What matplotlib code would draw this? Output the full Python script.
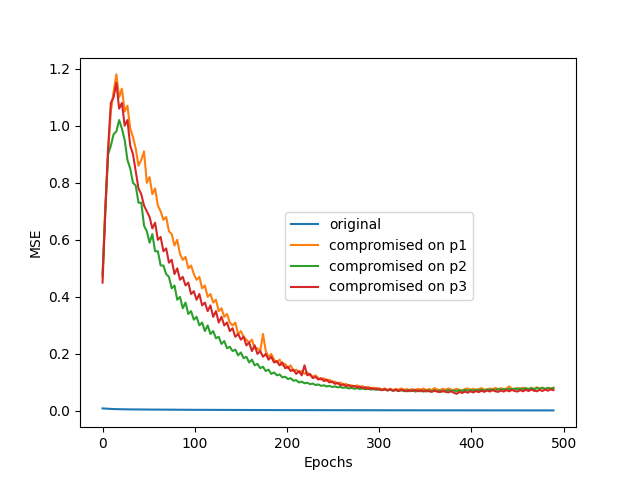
#!/usr/bin/env python3

import numpy as np
import matplotlib
matplotlib.use("Agg")
import matplotlib.pyplot as plt

epochs = np.arange(0, 490, 3)

epochs_orig = [0, 5, 10, 20, 30, 50, 75, 100, 150, 200, 250, 300, 400, 489]
mse_orig = [0.009, 0.008, 0.007, 0.006, 0.0055, 0.005, 0.0045, 0.004,
            0.0035, 0.003, 0.0028, 0.0025, 0.0022, 0.002]

mse_p1 = [
    0.47, 0.72, 0.90, 1.05, 1.12, 1.18, 1.10, 1.13, 1.05, 1.07,
    0.99, 0.96, 0.92, 0.86, 0.88, 0.91, 0.80, 0.82, 0.76, 0.78,
    0.72, 0.70, 0.67, 0.68, 0.63, 0.62, 0.58, 0.60, 0.55, 0.53,
    0.54, 0.50, 0.51, 0.48, 0.46, 0.47, 0.43, 0.44, 0.40, 0.41,
    0.38, 0.39, 0.35, 0.36, 0.33, 0.34, 0.31, 0.30, 0.31, 0.27,
    0.28, 0.26, 0.25, 0.24, 0.25, 0.22, 0.22, 0.21, 0.27, 0.21,
    0.19, 0.20, 0.18, 0.17, 0.18, 0.16, 0.165, 0.15, 0.16, 0.14,
    0.145, 0.135, 0.14, 0.13, 0.135, 0.125, 0.12, 0.125, 0.115, 0.11,
    0.115, 0.105, 0.11, 0.10, 0.103, 0.095, 0.10, 0.09, 0.095, 0.088,
    0.09, 0.086, 0.09, 0.083, 0.087, 0.081, 0.085, 0.079, 0.082, 0.078,
    0.08,
    0.076, 0.079, 0.074, 0.078, 0.073, 0.077, 0.075, 0.079, 0.074, 0.077,
    0.073, 0.077, 0.072, 0.078, 0.074, 0.079, 0.073, 0.077, 0.074, 0.080,
    0.075, 0.073, 0.078, 0.074, 0.079, 0.075, 0.073, 0.078, 0.074, 0.072,
    0.077, 0.079, 0.074, 0.078, 0.073, 0.077, 0.080, 0.075, 0.074, 0.079,
    0.075, 0.081, 0.076, 0.080, 0.075, 0.079, 0.086, 0.078, 0.076, 0.081,
    0.077, 0.082, 0.078, 0.076, 0.081, 0.077, 0.083, 0.078, 0.082, 0.077,
    0.081, 0.078, 0.081,
]

mse_p2 = [
    0.48, 0.70, 0.90, 0.93, 0.97, 0.98, 1.02, 0.99, 0.95, 0.88,
    0.85, 0.80, 0.79, 0.73, 0.73, 0.65, 0.63, 0.59, 0.62, 0.56,
    0.56, 0.51, 0.51, 0.48, 0.47, 0.43, 0.44, 0.39, 0.40, 0.36,
    0.38, 0.34, 0.35, 0.32, 0.33, 0.30, 0.31, 0.28, 0.30, 0.27,
    0.28, 0.255, 0.26, 0.235, 0.245, 0.22, 0.225, 0.21, 0.215, 0.195,
    0.205, 0.185, 0.19, 0.17, 0.18, 0.16, 0.165, 0.15, 0.155, 0.14,
    0.145, 0.13, 0.135, 0.125, 0.128, 0.118, 0.12, 0.112, 0.115, 0.106,
    0.108, 0.10, 0.103, 0.097, 0.099, 0.094, 0.096, 0.091, 0.093, 0.088,
    0.09, 0.086, 0.088, 0.084, 0.086, 0.083,
    0.084, 0.081, 0.083, 0.079, 0.081, 0.078, 0.080, 0.077, 0.079, 0.076,
    0.078, 0.075, 0.077, 0.074, 0.076, 0.073, 0.075, 0.072, 0.074, 0.071,
    0.073, 0.070, 0.073, 0.069, 0.072, 0.069, 0.072, 0.068, 0.071, 0.069,
    0.072, 0.068, 0.072, 0.069, 0.073, 0.069, 0.072, 0.068, 0.071, 0.073,
    0.070, 0.072, 0.069, 0.073, 0.070, 0.074, 0.071, 0.074, 0.070, 0.075,
    0.072, 0.075, 0.071, 0.076, 0.073, 0.076, 0.072, 0.077, 0.074, 0.077,
    0.074, 0.078, 0.075, 0.079, 0.076, 0.079, 0.075, 0.080, 0.077, 0.080,
    0.076, 0.080, 0.078, 0.081, 0.077, 0.081, 0.078, 0.081,
]

mse_p3 = [
    0.45, 0.70, 0.92, 1.08, 1.10, 1.15, 1.06, 1.08, 1.00, 1.02,
    0.93, 0.90, 0.84, 0.78, 0.76, 0.72, 0.70, 0.68, 0.64, 0.66,
    0.60, 0.61, 0.56, 0.57, 0.52, 0.53, 0.48, 0.50, 0.46, 0.47,
    0.44, 0.45, 0.41, 0.42, 0.39, 0.41, 0.37, 0.38, 0.35, 0.37,
    0.33, 0.35, 0.31, 0.33, 0.30, 0.31, 0.28, 0.29, 0.26, 0.27,
    0.25, 0.26, 0.23, 0.24, 0.21, 0.23, 0.20, 0.21, 0.19, 0.20,
    0.18, 0.19, 0.17, 0.175, 0.16, 0.17, 0.15, 0.155, 0.14, 0.145,
    0.13, 0.14, 0.125, 0.16, 0.125, 0.13, 0.115, 0.12, 0.11, 0.115,
    0.105, 0.11, 0.10, 0.104, 0.095, 0.099, 0.09, 0.094, 0.087, 0.091,
    0.085, 0.088, 0.082, 0.086, 0.08, 0.083, 0.077, 0.081, 0.076, 0.079,
    0.075,
    0.073, 0.077, 0.072, 0.076, 0.071, 0.075, 0.070, 0.074, 0.072, 0.069,
    0.073, 0.070, 0.074, 0.069, 0.073, 0.068, 0.072, 0.069, 0.067, 0.071,
    0.068, 0.066, 0.071, 0.067, 0.065, 0.069, 0.064, 0.060, 0.067, 0.063,
    0.068, 0.064, 0.069, 0.065, 0.070, 0.066, 0.071, 0.067, 0.072, 0.068,
    0.073, 0.069, 0.067, 0.072, 0.068, 0.073, 0.069, 0.074, 0.070, 0.068,
    0.073, 0.069, 0.074, 0.070, 0.075, 0.071, 0.069, 0.074, 0.070, 0.075,
    0.071, 0.076, 0.073,
]


def main():
    fig, ax = plt.subplots(figsize=(6.4, 4.8), dpi=100)
    ax.plot(epochs_orig, mse_orig, label="original")
    ax.plot(epochs, mse_p1, label="compromised on p1")
    ax.plot(epochs, mse_p2, label="compromised on p2")
    ax.plot(epochs, mse_p3, label="compromised on p3")
    ax.set_xlabel("Epochs")
    ax.set_ylabel("MSE")
    ax.legend(loc="center", bbox_to_anchor=(0.603, 0.463))
    fig.savefig("out.png")


if __name__ == "__main__":
    main()
